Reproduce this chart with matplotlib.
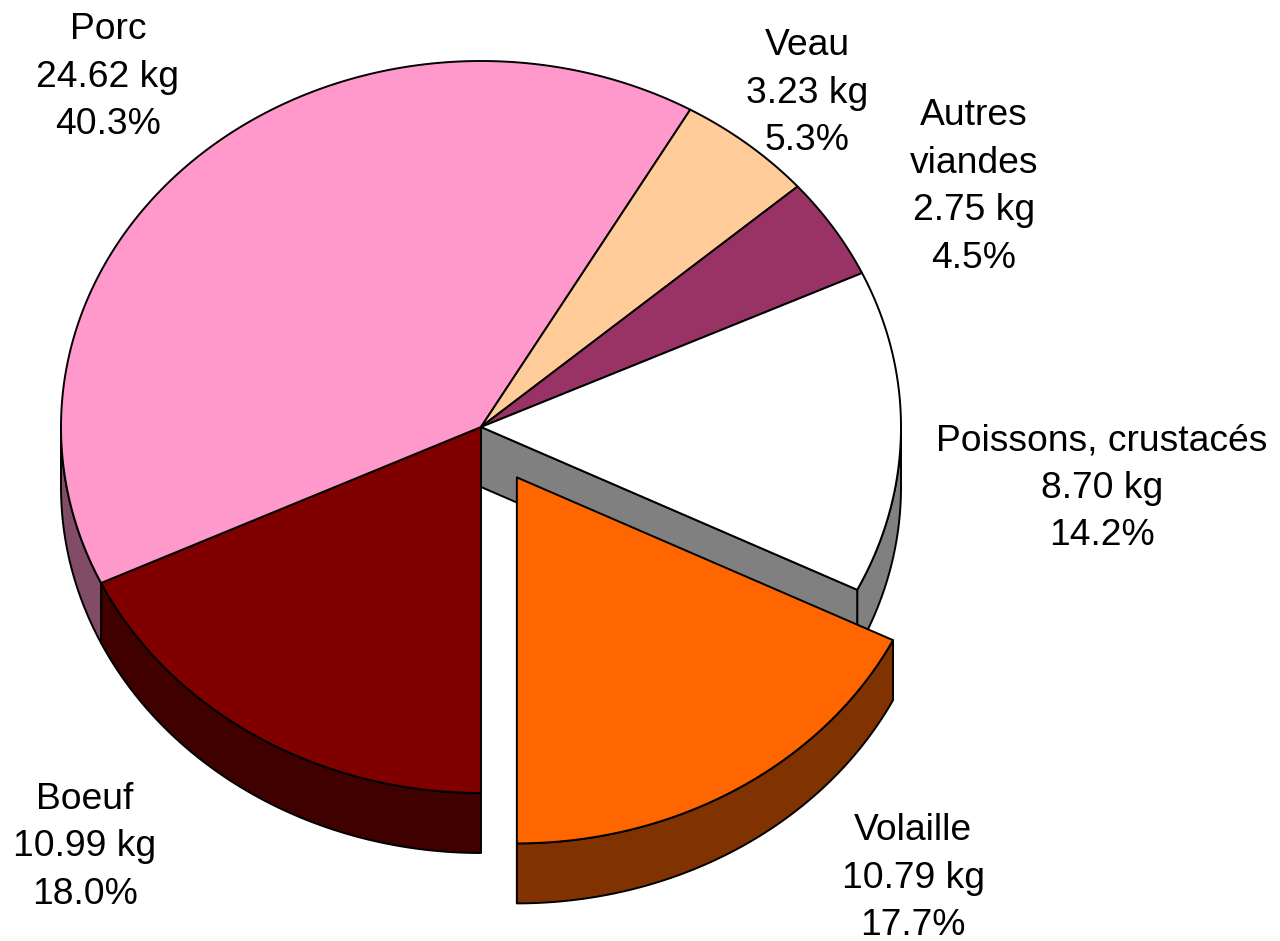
import numpy as np
import matplotlib.pyplot as plt
from matplotlib.patches import Polygon

categories = ['Boeuf', 'Porc', 'Veau', 'Autres\nviandes', 'Poissons, crustacés', 'Volaille']
kg = [10.99, 24.62, 3.23, 2.75, 8.70, 10.79]
top_colors = ['#800000', '#FF99CC', '#FFCC99', '#993366', '#FFFFFF', '#FF6600']
side_colors = ['#400000', '#804C66', '#806633', '#4C1933', '#808080', '#803300']
explode = [0, 0, 0, 0, 0, 0.162]

# label anchor: centre x, baseline of first line (pixels)
label_pos = [(85, 809), (108, 39), (807, 55), (974, 125), (1102, 450), (913, 840)]
line_step = 47.5

cx, cy, rx, ry, depth = 481, 427, 420, 366, 60
start = 180.0  # degrees, clockwise from 12 o'clock

fig = plt.figure(figsize=(12.8, 9.41), dpi=100)
ax = fig.add_axes([0, 0, 1, 1])
ax.set_xlim(0, 1280)
ax.set_ylim(941, 0)
ax.axis('off')

total = sum(kg)
fracs = np.array(kg) / total
edges = start + 360 * np.concatenate([[0], np.cumsum(fracs)])
LW = 1.4


def pt(theta, off=(0, 0), dz=0.0):
    t = np.radians(theta)
    return np.column_stack([cx + off[0] + rx * np.sin(t), cy + off[1] - ry * np.cos(t) + dz])


def offset(i):
    mid = np.radians((edges[i] + edges[i + 1]) / 2)
    d = explode[i]
    return d * rx * np.sin(mid), -d * ry * np.cos(mid)


def draw_wall(i):
    off = offset(i)
    a, b = edges[i], edges[i + 1]
    # only the front half (90..270 deg) of the rim is visible
    for k in (-360, 0, 360):
        lo, hi = max(a + k, 90), min(b + k, 270)
        if hi <= lo:
            continue
        th = np.linspace(lo, hi, 80)
        top = pt(th, off)
        bot = pt(th[::-1], off, depth)
        ax.add_patch(Polygon(np.vstack([top, bot]), closed=True, fc=side_colors[i],
                             ec='black', lw=LW, joinstyle='round'))


def draw_radial(i, phi, at_end):
    off = offset(i)
    s = np.sin(np.radians(phi))
    if (at_end and s <= 1e-6) or (not at_end and s >= -1e-6):
        return
    c = np.array([[cx + off[0], cy + off[1]]])
    r = pt([phi], off)
    poly = np.vstack([c, r, r + [0, depth], c + [0, depth]])
    ax.add_patch(Polygon(poly, closed=True, fc=side_colors[i], ec='black', lw=LW,
                         joinstyle='round'))


def draw_top(i):
    off = offset(i)
    th = np.linspace(edges[i], edges[i + 1], 200)
    poly = np.vstack([[cx + off[0], cy + off[1]], pt(th, off)])
    ax.add_patch(Polygon(poly, closed=True, fc=top_colors[i], ec='black', lw=LW,
                         joinstyle='round'))


n = len(kg)
still = [i for i in range(n) if explode[i] == 0]
moved = [i for i in range(n) if explode[i] != 0]

for i in still:
    draw_wall(i)
for i in still:
    if explode[(i + 1) % n] != 0:
        draw_radial(i, edges[i + 1], True)
    if explode[(i - 1) % n] != 0:
        draw_radial(i, edges[i], False)
for i in still:
    draw_top(i)
for i in moved:
    draw_wall(i)
    draw_radial(i, edges[i], False)
    draw_radial(i, edges[i + 1], True)
    draw_top(i)

for i in range(n):
    lines = categories[i].split('\n') + [f'{kg[i]:.2f} kg', f'{100 * fracs[i]:.1f}%']
    x, y0 = label_pos[i]
    for j, s in enumerate(lines):
        ax.text(x, y0 + j * line_step, s, ha='center', va='baseline',
                fontsize=26.8, family=['Liberation Sans', 'DejaVu Sans'], color='black')

fig.savefig('out.png', dpi=100, facecolor='white')
